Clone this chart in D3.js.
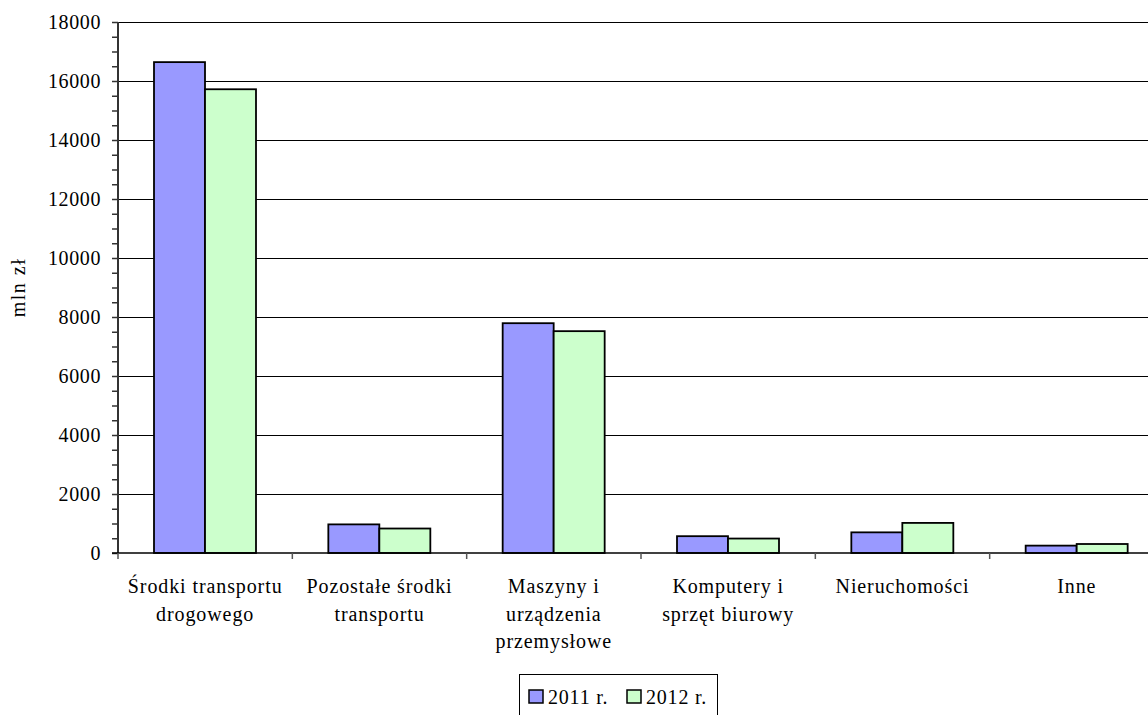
<!DOCTYPE html>
<html>
<head>
<meta charset="utf-8">
<script src="https://cdn.jsdelivr.net/npm/d3@7"></script>
<style>
  body { margin: 0; background: #fff; }
  svg text { font-family: "Liberation Serif", "Times New Roman", serif; fill: #000; }
</style>
</head>
<body>
<svg width="1148" height="715"></svg>
<script>
// kategorie i wartosci (mln zl)
var categories = [
  ["Środki transportu", "drogowego"],
  ["Pozostałe środki", "transportu"],
  ["Maszyny i", "urządzenia", "przemysłowe"],
  ["Komputery i", "sprzęt biurowy"],
  ["Nieruchomości"],
  ["Inne"]
];
var series = ["2011 r.", "2012 r."];
var values2011 = [16640, 970, 7790, 570, 700, 250];
var values2012 = [15720, 830, 7520, 490, 1020, 305];
var yTicks = [0, 2000, 4000, 6000, 8000, 10000, 12000, 14000, 16000, 18000];
var colors = ["#9999FF", "#CCFFCC"];

var svg = d3.select("svg");
var pLeft = 118, pTop = 22, pBottom = 553, pRight = 1164;

var keys = categories.map(function(d, i) { return i; });
var x0 = d3.scaleBand().domain(keys).range([pLeft, pRight]);
var x1 = d3.scaleBand().domain(series).range([36, 138]);
var y = d3.scaleLinear().domain([0, 18000]).range([pBottom, pTop]);

// linie siatki
svg.append("g")
  .selectAll("line")
  .data(yTicks.slice(1))
  .enter()
  .append("line")
  .attr("x1", pLeft)
  .attr("x2", 1148)
  .attr("y1", function(d) { return Math.round(y(d)) + 0.5; })
  .attr("y2", function(d) { return Math.round(y(d)) + 0.5; })
  .style("stroke", "#000")
  .style("stroke-width", "1px");

// slupki
var groups = svg.append("g")
  .selectAll("g")
  .data(keys)
  .enter()
  .append("g")
  .attr("transform", function(d) { return "translate(" + x0(d) + ",0)"; });

groups.selectAll("rect")
  .data(function(i) { return [values2011[i], values2012[i]]; })
  .enter()
  .append("rect")
  .attr("x", function(d, j) { return x1(series[j]); })
  .attr("width", x1.bandwidth())
  .attr("y", function(d) { return y(d); })
  .attr("height", function(d) { return pBottom - y(d); })
  .style("fill", function(d, j) { return colors[j]; })
  .style("stroke", "#000")
  .style("stroke-width", "1.8px");

// os Y
var yAxis = d3.axisLeft(y)
  .tickValues(d3.range(0, 18001, 500))
  .tickSize(6)
  .tickFormat(function(d) { return d % 2000 === 0 ? d : ""; });
var gy = svg.append("g")
  .attr("transform", "translate(" + pLeft + ",0)")
  .call(yAxis)
  .attr("font-family", null)
  .attr("font-size", null);
gy.select(".domain").remove();
gy.selectAll("line")
  .style("stroke", "#333")
  .style("stroke-width", "1.5px");
gy.selectAll("text")
  .attr("x", -17)
  .style("font-size", "20px")
  .style("letter-spacing", "0.6px");
svg.append("line")
  .attr("x1", pLeft).attr("x2", pLeft)
  .attr("y1", pTop).attr("y2", pBottom)
  .style("stroke", "#333").style("stroke-width", "2px");

// os X
svg.append("line")
  .attr("x1", pLeft - 6).attr("x2", 1148)
  .attr("y1", pBottom).attr("y2", pBottom)
  .style("stroke", "#000").style("stroke-width", "1.5px");
svg.append("g")
  .selectAll("line")
  .data(keys)
  .enter()
  .append("line")
  .attr("x1", function(d) { return x0(d); })
  .attr("x2", function(d) { return x0(d); })
  .attr("y1", pBottom)
  .attr("y2", pBottom + 6)
  .style("stroke", "#555")
  .style("stroke-width", "1.5px");

var labels = svg.append("g")
  .selectAll("text")
  .data(keys)
  .enter()
  .append("text")
  .attr("text-anchor", "middle")
  .style("font-size", "20px")
  .style("letter-spacing", "0.9px");
labels.selectAll("tspan")
  .data(function(i) { return categories[i]; })
  .enter()
  .append("tspan")
  .attr("x", function() { return x0(d3.select(this.parentNode).datum()) + x0.bandwidth() / 2; })
  .attr("y", function(d, k) { return 593 + k * 27.5; })
  .text(function(d) { return d; });

// tytul osi Y
svg.append("text")
  .attr("transform", "translate(25," + ((pTop + pBottom) / 2) + ") rotate(-90)")
  .attr("text-anchor", "middle")
  .style("font-size", "20px")
  .style("letter-spacing", "1.5px")
  .text("mln  zł");

// legenda
var legend = svg.append("g");
legend.append("rect")
  .attr("x", 519.5).attr("y", 674.5)
  .attr("width", 198).attr("height", 60)
  .style("fill", "#fff")
  .style("stroke", "#000")
  .style("stroke-width", "1px");
var lx = [529, 627];
var items = legend.selectAll("g.item")
  .data(series)
  .enter()
  .append("g")
  .attr("class", "item");
items.append("rect")
  .attr("x", function(d, i) { return lx[i]; })
  .attr("y", 690)
  .attr("width", 14).attr("height", 13)
  .style("fill", function(d, i) { return colors[i]; })
  .style("stroke", "#000")
  .style("stroke-width", "1.5px");
items.append("text")
  .attr("x", function(d, i) { return lx[i] + 19; })
  .attr("y", 704)
  .style("font-size", "20px")
  .style("letter-spacing", "0.8px")
  .text(function(d) { return d; });
</script>
</body>
</html>
